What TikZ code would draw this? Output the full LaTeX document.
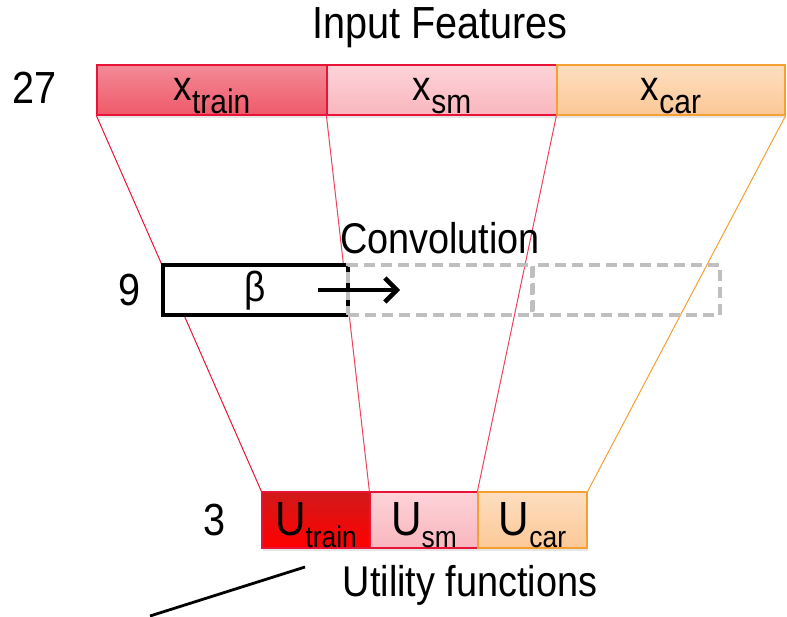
\documentclass[tikz,border=0pt]{standalone}
\usepackage{fontspec}
\setmainfont[FakeStretch=0.88]{Liberation Sans}
\usepackage{tikz}
\usetikzlibrary{arrows.meta, positioning, shadows}
\definecolor{trainred}{RGB}{236,60,80}
\definecolor{smpink}{RGB}{250,182,190}
\definecolor{carorange}{RGB}{252,200,150}
\definecolor{redline}{RGB}{232,20,55}
\definecolor{orangeline}{RGB}{245,160,50}
\newcommand{\xfeat}[1]{{\fontsize{42}{44}\selectfont x}\raisebox{-13pt}{\fontsize{34}{36}\selectfont #1}}
\newcommand{\ufunc}[1]{{\fontsize{48}{50}\selectfont U}\raisebox{-12pt}{\fontsize{30}{32}\selectfont #1}}

\begin{document}
\begin{tikzpicture}[
    x=1pt, y=-1pt,
    feat/.style={draw, line width=1.2pt, minimum width=230pt, minimum height=50pt, inner sep=0pt, text height=25pt, text depth=5pt, drop shadow={opacity=0.2, shadow xshift=1pt, shadow yshift=-3pt}},
    util/.style={draw, line width=1.2pt, minimum width=108pt, minimum height=56pt, inner sep=0pt, text height=35pt, text depth=5pt, drop shadow={opacity=0.2, shadow xshift=1pt, shadow yshift=-3pt}},
    conv/.style={draw=gray!50, line width=4pt, dash pattern=on 11pt off 6pt, minimum height=50pt, inner sep=0pt},
    big/.style={font=\fontsize{45}{48}\selectfont},
    link/.style={line width=1pt}
]
    \useasboundingbox (0,0) rectangle (787,616);

    % input features
    \node[feat, draw=redline, top color=trainred!60, bottom color=trainred!85] (xtrain) at (212,90) {\xfeat{train}};
    \node[feat, draw=redline, top color=smpink!60, bottom color=smpink] (xsm) at (442,90) {\xfeat{sm}};
    \node[feat, draw=orangeline, top color=carorange!60, bottom color=carorange, minimum width=228pt] (xcar) at (671,90) {\xfeat{car}};
    \node[big] (inlabel) at (440,28) {Input Features};
    \node[big] (n27) at (35,88) {27};

    % utility functions
    \node[util, draw=redline, top color=red!80!black!90, bottom color=red] (utrain) at (316,520) {\ufunc{train}};
    \node[util, draw=redline, top color=smpink!60, bottom color=smpink] (usm) at (424,520) {\ufunc{sm}};
    \node[util, draw=orangeline, top color=carorange!60, bottom color=carorange, minimum width=109pt] (ucar) at (532.5,520) {\ufunc{car}};
    \node[big] (n3) at (215,520) {3};
    \node[font=\fontsize{43}{46}\selectfont] (outlabel) at (470,585) {Utility functions};

    % projection lines
    \draw[link, redline] (xtrain.south west) -- (utrain.north west);
    \draw[link, redline!80] (xsm.south west) -- (usm.north west);
    \draw[link, redline!80] (xcar.south west) -- (ucar.north west);
    \draw[link, orangeline] (xcar.south east) -- (ucar.north east);

    % convolution filter
    \node[draw, line width=4.5pt, fill=white, minimum width=185pt, minimum height=50pt, inner sep=0pt, text height=30pt, text depth=8pt] (beta) at (255.5,290) {\fontsize{42}{44}\selectfont β};
    \node[conv, minimum width=184pt] (convmid) at (440,290) {};
    \node[conv, minimum width=187pt] (convright) at (626.5,290) {};
    \node[font=\fontsize{43}{46}\selectfont] (convlabel) at (440,238) {Convolution};
    \node[big] (n9) at (130,290) {9};
    \coordinate (arrstart) at (318,290);
    \coordinate (arrend) at (400,290);
    \draw[line width=4.5pt, -{Straight Barb[length=12pt, width=24pt]}] (arrstart) -- (arrend);

    \coordinate (cuta) at (305,567);
    \coordinate (cutb) at (150,616);
    \draw[line width=2.8pt] (cuta) -- (cutb);
\end{tikzpicture}
\end{document}
